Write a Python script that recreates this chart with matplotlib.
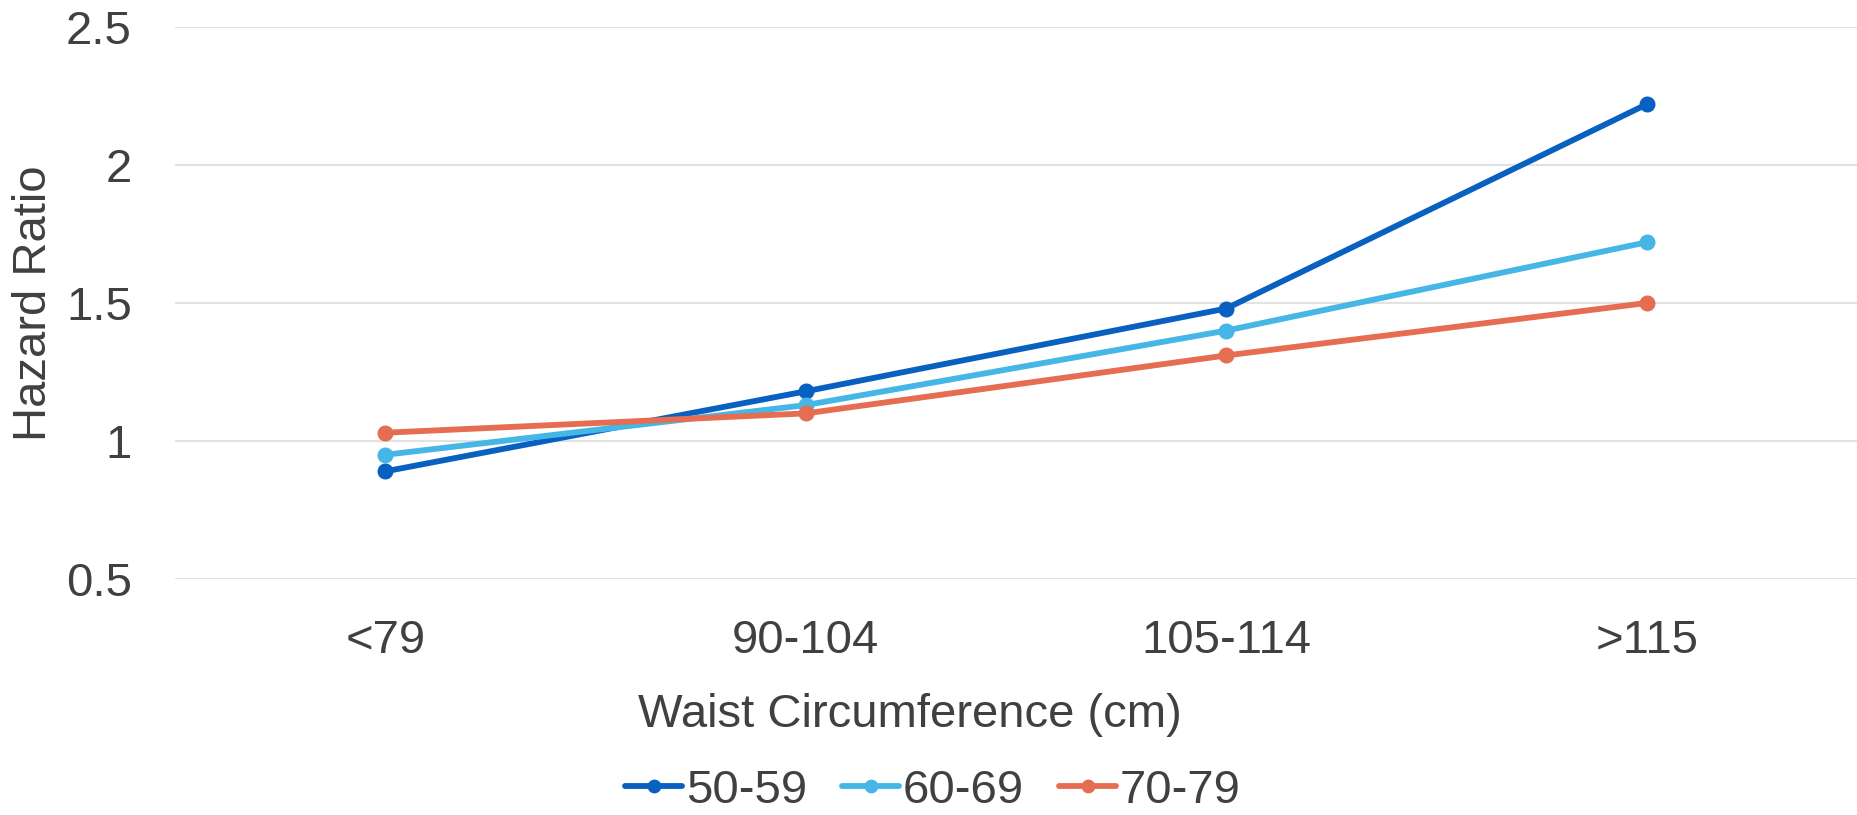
import matplotlib
matplotlib.use("Agg")
import matplotlib.pyplot as plt

plt.rcParams['font.family'] = ['Liberation Sans', 'DejaVu Sans']

# waist circumference bands (cm) and hazard ratios per age group
categories = ['<79', '90-104', '105-114', '>115']
age_groups = ['50-59', '60-69', '70-79']
hr_50_59 = [0.89, 1.18, 1.48, 2.22]
hr_60_69 = [0.95, 1.13, 1.40, 1.72]
hr_70_79 = [1.03, 1.10, 1.31, 1.50]
yticks = [0.5, 1, 1.5, 2, 2.5]
ytick_labels = ['0.5', '1', '1.5', '2', '2.5']

colors = ['#0860c0', '#45b6e6', '#e66c52']
text_color = '#404040'
fs = 34

W, H = 1857, 815
fig = plt.figure(figsize=(W / 100, H / 100), dpi=100)
# plot area in pixels: left 175, right edge of figure, rows 27..579 from top
ax = fig.add_axes([175 / W, (H - 579) / H, (W - 175) / W, 552 / H])

x = range(len(categories))
for vals, name, c in zip([hr_50_59, hr_60_69, hr_70_79], age_groups, colors):
    ax.plot(x, vals, color=c, lw=4.2, marker='o', ms=10.5, label=name,
            solid_capstyle='round')

ax.set_xlim(-0.5, len(categories) - 0.5)
ax.set_ylim(0.5, 2.5)
ax.set_yticks(yticks)
ax.set_yticklabels(ytick_labels)
ax.set_xticks(list(x))
ax.set_xticklabels(categories)

ax.grid(axis='y', color='#e2e2e2', lw=1.5)
ax.set_axisbelow(True)
for s in ax.spines.values():
    s.set_visible(False)
ax.tick_params(length=0, labelsize=fs, colors=text_color)
ax.tick_params(axis='x', pad=53)
ax.tick_params(axis='y', pad=31)
for t in ax.get_xticklabels():
    t.set_va('baseline')

ax.set_ylabel('Hazard Ratio', fontsize=fs, color=text_color, va='center')
ax.yaxis.set_label_coords((34 - 175) / (W - 175), 0.5)
ax.set_xlabel('Waist Circumference (cm)', fontsize=fs, color=text_color,
              va='baseline')
ax.xaxis.set_label_coords((910 - 175) / (W - 175), (H - 727 - 236) / 552)

ax.legend(loc='center', bbox_to_anchor=(933 / W, 1 - 791 / H),
          bbox_transform=fig.transFigure, ncol=3, frameon=False,
          fontsize=fs, labelcolor=text_color, handlelength=1.2,
          handletextpad=0.08, columnspacing=0.75, markerscale=0.85)

fig.savefig('out.png', dpi=100, facecolor='white')
